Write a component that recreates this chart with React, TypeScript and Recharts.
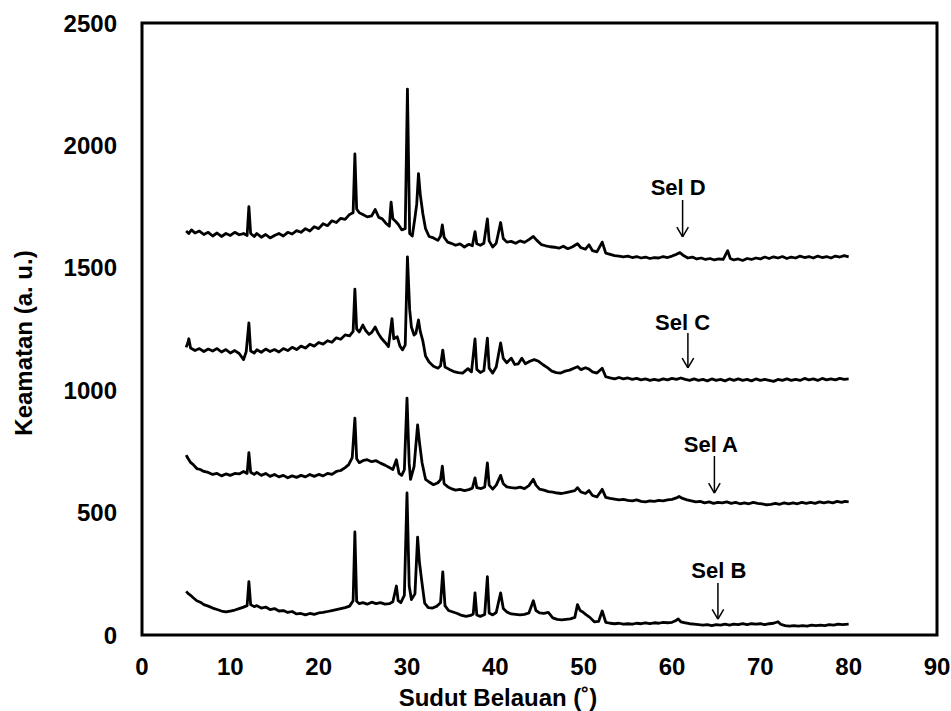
import { LineChart, Line, XAxis, YAxis, ReferenceArea, ReferenceLine, ReferenceDot } from 'recharts'

// [angle (deg), intensity]
const selD: [number, number][] = [
  [5, 1650], [5.3, 1640], [5.6, 1655], [6, 1642], [6.5, 1650], [7, 1636], [7.5, 1645], [8, 1630], [8.5, 1642], [9, 1628],
  [9.5, 1640], [10, 1632], [10.5, 1645], [11, 1635], [11.5, 1640], [11.9, 1632], [12.1, 1750], [12.3, 1640], [12.7, 1628],
  [13, 1640], [13.5, 1625], [14, 1636], [14.5, 1622], [15, 1632], [15.5, 1640], [16, 1630], [16.5, 1645], [17, 1638],
  [17.5, 1652], [18, 1645], [18.5, 1660], [19, 1650], [19.5, 1668], [20, 1660], [20.5, 1680], [21, 1672], [21.5, 1692],
  [22, 1685], [22.5, 1702], [23, 1698], [23.5, 1718], [23.9, 1725], [24.1, 1965], [24.3, 1740], [24.6, 1725], [25, 1718],
  [25.5, 1708], [26, 1712], [26.4, 1738], [26.8, 1706], [27.2, 1700], [27.6, 1682], [28, 1670], [28.2, 1768], [28.4, 1700],
  [28.7, 1690], [29, 1678], [29.4, 1655], [29.8, 1660], [30.05, 2230], [30.3, 1640], [30.6, 1630], [30.9, 1705], [31.1, 1760],
  [31.3, 1885], [31.5, 1800], [31.8, 1720], [32.1, 1660], [32.5, 1628], [33, 1622], [33.5, 1612], [33.8, 1630], [34, 1675],
  [34.2, 1625], [34.6, 1605], [35, 1600], [35.5, 1592], [36, 1598], [36.5, 1585], [37, 1596], [37.4, 1590], [37.7, 1648],
  [37.9, 1598], [38.3, 1592], [38.7, 1600], [39.1, 1700], [39.3, 1610], [39.7, 1585], [40.1, 1600], [40.6, 1685], [40.9, 1620],
  [41.3, 1605], [41.8, 1608], [42.3, 1600], [42.8, 1610], [43.3, 1604], [43.8, 1615], [44.3, 1628], [44.7, 1612], [45.2, 1595],
  [45.7, 1590], [46.2, 1586], [46.7, 1584], [47.2, 1580], [47.7, 1588], [48.2, 1578], [48.7, 1585], [49.3, 1598], [49.7, 1582],
  [50.2, 1576], [50.6, 1594], [51, 1570], [51.5, 1565], [52.1, 1605], [52.5, 1560], [53, 1555], [53.5, 1550], [54, 1548],
  [54.5, 1545], [55, 1548], [55.5, 1542], [56, 1546], [56.5, 1540], [57, 1544], [57.5, 1538], [58, 1542], [58.5, 1540],
  [59, 1546], [59.5, 1542], [60, 1548], [60.5, 1555], [60.9, 1562], [61.3, 1550], [61.8, 1540], [62.3, 1544], [62.8, 1536],
  [63.3, 1540], [63.8, 1534], [64.3, 1538], [64.8, 1532], [65.3, 1536], [65.8, 1534], [66.3, 1570], [66.6, 1538], [67, 1532],
  [67.5, 1536], [68, 1530], [68.5, 1538], [69, 1534], [69.5, 1540], [70, 1536], [70.5, 1544], [71, 1538], [71.5, 1545],
  [72, 1540], [72.5, 1546], [73, 1538], [73.5, 1544], [74, 1540], [74.5, 1548], [75, 1542], [75.5, 1546], [76, 1540],
  [76.5, 1548], [77, 1542], [77.5, 1546], [78, 1540], [78.5, 1548], [79, 1544], [79.5, 1550], [80, 1545],
]

const selC: [number, number][] = [
  [5, 1175], [5.2, 1195], [5.3, 1210], [5.5, 1172], [6, 1162], [6.5, 1170], [7, 1158], [7.5, 1168], [8, 1160], [8.5, 1170],
  [9, 1156], [9.5, 1166], [10, 1152], [10.5, 1162], [11, 1150], [11.5, 1125], [11.8, 1158], [12.1, 1275], [12.3, 1160],
  [12.7, 1152], [13, 1165], [13.5, 1155], [14, 1168], [14.5, 1158], [15, 1166], [15.5, 1156], [16, 1170], [16.5, 1162],
  [17, 1175], [17.5, 1166], [18, 1180], [18.5, 1172], [19, 1188], [19.5, 1180], [20, 1195], [20.5, 1188], [21, 1202],
  [21.5, 1196], [22, 1214], [22.5, 1208], [23, 1226], [23.5, 1222], [23.9, 1240], [24.1, 1413], [24.3, 1250], [24.6, 1238],
  [25, 1266], [25.3, 1245], [25.7, 1228], [26, 1236], [26.4, 1258], [26.7, 1235], [27.1, 1212], [27.5, 1196], [27.9, 1178],
  [28.3, 1292], [28.5, 1210], [28.9, 1218], [29.2, 1180], [29.5, 1165], [29.8, 1185], [30.05, 1545], [30.3, 1330], [30.5, 1258],
  [30.8, 1225], [31, 1232], [31.3, 1287], [31.5, 1240], [31.8, 1200], [32.1, 1140], [32.5, 1115], [33, 1098], [33.5, 1090],
  [33.8, 1100], [34.05, 1164], [34.3, 1095], [34.8, 1085], [35.3, 1076], [35.8, 1072], [36.3, 1070], [36.9, 1088], [37.3, 1075],
  [37.7, 1210], [37.9, 1085], [38.3, 1072], [38.7, 1080], [39.1, 1213], [39.3, 1090], [39.7, 1070], [40.1, 1095], [40.6, 1193],
  [40.9, 1130], [41.3, 1112], [41.8, 1131], [42.2, 1105], [42.6, 1108], [43, 1131], [43.4, 1108], [43.9, 1118], [44.4, 1125],
  [44.9, 1118], [45.4, 1104], [45.9, 1092], [46.4, 1078], [46.9, 1072], [47.4, 1070], [47.9, 1078], [48.4, 1082], [48.9, 1090],
  [49.3, 1096], [49.7, 1084], [50.2, 1092], [50.6, 1086], [51, 1075], [51.5, 1070], [52.1, 1090], [52.5, 1055], [53, 1050],
  [53.5, 1046], [54, 1052], [54.5, 1046], [55, 1050], [55.5, 1044], [56, 1048], [56.5, 1042], [57, 1046], [57.5, 1040],
  [58, 1044], [58.5, 1040], [59, 1046], [59.5, 1042], [60, 1048], [60.5, 1044], [61, 1050], [61.5, 1044], [62, 1040],
  [62.5, 1046], [63, 1040], [63.5, 1044], [64, 1038], [64.5, 1046], [65, 1040], [65.5, 1044], [66, 1038], [66.5, 1046],
  [67, 1040], [67.5, 1046], [68, 1040], [68.5, 1044], [69, 1038], [69.5, 1046], [70, 1040], [70.5, 1044], [71, 1040],
  [71.5, 1036], [72, 1044], [72.5, 1040], [73, 1046], [73.5, 1040], [74, 1044], [74.5, 1040], [75, 1048], [75.5, 1042],
  [76, 1046], [76.5, 1040], [77, 1048], [77.5, 1042], [78, 1046], [78.5, 1042], [79, 1048], [79.5, 1044], [80, 1046],
]

const selA: [number, number][] = [
  [5, 735], [5.2, 722], [5.5, 705], [5.8, 696], [6.2, 680], [6.6, 676], [7, 668], [7.5, 664], [8, 656], [8.5, 660], [9, 650],
  [9.5, 658], [10, 652], [10.5, 660], [11, 658], [11.5, 668], [11.9, 660], [12.1, 745], [12.3, 665], [12.7, 656], [13, 664],
  [13.5, 652], [14, 660], [14.5, 648], [15, 656], [15.5, 646], [16, 652], [16.5, 642], [17, 650], [17.5, 644], [18, 652],
  [18.5, 646], [19, 656], [19.5, 648], [20, 656], [20.5, 650], [21, 660], [21.5, 656], [22, 668], [22.5, 672], [23, 684],
  [23.4, 696], [23.8, 725], [24.1, 886], [24.3, 720], [24.6, 704], [25, 712], [25.5, 716], [26, 708], [26.5, 712], [27, 702],
  [27.5, 694], [28, 684], [28.4, 676], [28.8, 716], [29.1, 660], [29.4, 652], [29.7, 675], [30, 968], [30.25, 700], [30.4, 636],
  [30.8, 688], [31.2, 858], [31.4, 790], [31.7, 705], [32.1, 636], [32.5, 625], [33, 614], [33.5, 622], [33.8, 635], [34, 690],
  [34.2, 618], [34.6, 606], [35, 598], [35.5, 592], [36, 595], [36.5, 590], [37, 594], [37.4, 600], [37.7, 642], [37.9, 602],
  [38.4, 598], [38.8, 605], [39.1, 703], [39.3, 612], [39.7, 596], [40.1, 612], [40.6, 652], [40.9, 618], [41.3, 605],
  [41.8, 602], [42.3, 600], [42.8, 604], [43.3, 598], [43.8, 610], [44.3, 636], [44.6, 612], [45, 596], [45.5, 592], [46, 586],
  [46.5, 584], [47, 580], [47.5, 578], [48, 582], [48.5, 586], [49, 590], [49.3, 602], [49.7, 584], [50.2, 578], [50.6, 590],
  [51, 570], [51.5, 564], [52.1, 595], [52.5, 562], [53, 558], [53.5, 555], [54, 552], [54.5, 554], [55, 550], [55.5, 548],
  [56, 552], [56.5, 546], [57, 544], [57.5, 548], [58, 546], [58.5, 550], [59, 548], [59.5, 552], [60, 554], [60.5, 560],
  [60.8, 566], [61.2, 558], [61.7, 552], [62.2, 548], [62.7, 544], [63.2, 546], [63.7, 540], [64.2, 544], [64.7, 538],
  [65.2, 542], [65.7, 540], [66.2, 544], [66.7, 538], [67.2, 542], [67.7, 536], [68.2, 540], [68.7, 536], [69.2, 542],
  [69.7, 538], [70.2, 536], [70.7, 532], [71.2, 534], [71.7, 538], [72.2, 534], [72.7, 540], [73.2, 536], [73.7, 540],
  [74.2, 536], [74.7, 542], [75.2, 538], [75.7, 542], [76.2, 538], [76.7, 544], [77.2, 540], [77.7, 544], [78.2, 540],
  [78.7, 546], [79.2, 542], [79.6, 546], [80, 544],
]

const selB: [number, number][] = [
  [5, 178], [5.2, 170], [5.5, 162], [5.8, 152], [6.2, 140], [6.6, 134], [7, 124], [7.5, 118], [8, 110], [8.5, 104], [9, 98],
  [9.5, 94], [10, 98], [10.5, 102], [11, 108], [11.5, 114], [11.9, 120], [12.1, 218], [12.3, 124], [12.7, 116], [13, 120],
  [13.5, 110], [14, 114], [14.5, 104], [15, 108], [15.5, 98], [16, 100], [16.5, 92], [17, 96], [17.5, 86], [18, 88],
  [18.5, 82], [19, 88], [19.5, 84], [20, 90], [20.5, 92], [21, 96], [21.5, 100], [22, 104], [22.5, 108], [23, 112],
  [23.5, 118], [23.9, 140], [24.1, 421], [24.3, 138], [24.6, 128], [25, 132], [25.5, 126], [26, 134], [26.5, 128], [27, 132],
  [27.5, 126], [28, 128], [28.4, 136], [28.8, 200], [29, 140], [29.3, 132], [29.7, 162], [30, 580], [30.25, 200], [30.5, 145],
  [30.9, 168], [31.2, 400], [31.4, 300], [31.7, 212], [32, 130], [32.4, 112], [32.9, 110], [33.4, 118], [33.8, 132],
  [34.05, 258], [34.3, 120], [34.7, 100], [35.2, 94], [35.7, 88], [36.2, 80], [36.7, 76], [37.2, 80], [37.5, 86], [37.7, 172],
  [37.9, 82], [38.3, 76], [38.8, 84], [39.1, 238], [39.3, 90], [39.7, 82], [40.1, 92], [40.6, 172], [40.9, 108], [41.3, 94],
  [41.8, 86], [42.3, 84], [42.8, 82], [43.3, 84], [43.8, 90], [44.3, 140], [44.6, 100], [45, 90], [45.5, 88], [46, 92],
  [46.5, 70], [47, 64], [47.5, 62], [48, 64], [48.5, 66], [49, 72], [49.3, 124], [49.6, 100], [49.9, 94], [50.3, 82],
  [50.7, 72], [51.2, 54], [51.7, 56], [52.1, 98], [52.5, 52], [53, 48], [53.5, 46], [54, 48], [54.5, 44], [55, 46], [55.5, 44],
  [56, 48], [56.5, 46], [57, 50], [57.5, 46], [58, 50], [58.5, 48], [59, 52], [59.5, 50], [60, 52], [60.4, 58], [60.7, 66],
  [61, 54], [61.5, 50], [62, 46], [62.5, 44], [63, 42], [63.5, 40], [64, 42], [64.5, 38], [65, 42], [65.5, 40], [66, 44],
  [66.5, 40], [67, 44], [67.5, 42], [68, 46], [68.5, 42], [69, 46], [69.5, 44], [70, 46], [70.5, 42], [71, 46], [71.5, 48],
  [72, 54], [72.3, 44], [72.8, 38], [73.3, 36], [73.8, 38], [74.3, 36], [74.8, 38], [75.3, 36], [75.8, 40], [76.3, 38],
  [76.8, 40], [77.3, 38], [77.8, 42], [78.3, 40], [78.8, 44], [79.3, 42], [80, 44],
]

const xTicks = [0, 10, 20, 30, 40, 50, 60, 70, 80, 90]
const yTicks = [0, 500, 1000, 1500, 2000, 2500]

// annotations: label, label position, arrow x, arrow top, arrow tip
const noteNames = ['Sel D', 'Sel C', 'Sel A', 'Sel B']
const noteLabelX = [60.7, 61.2, 64.4, 65.3]
const noteLabelY = [1830, 1279, 780, 266]
const noteArrowX = [61.2, 61.8, 64.8, 65.2]
const noteArrowTop = [1777, 1234, 731, 212]
const noteArrowTip = [1626, 1091, 580, 65]

const toPoints = (arr: [number, number][]) => arr.map(([x, y]) => ({ x, y }))
const series = [selD, selC, selA, selB].map(toPoints)

const font = '"Liberation Sans", Arial, sans-serif'
const tickStyle = { fill: '#000', fontSize: 24, fontWeight: 'bold', fontFamily: font }

const XTitle = ({ viewBox }: any) => (
  <text x={viewBox.x + 356} y={viewBox.y + 71} textAnchor="middle" fill="#000" fontSize={24} fontWeight="bold" fontFamily={font}>
    Sudut Belauan (˚)
  </text>
)

const YTitle = ({ viewBox }: any) => {
  const cx = viewBox.x + 23
  const cy = viewBox.y + viewBox.height / 2 + 14
  return (
    <text x={cx} y={cy} transform={`rotate(-90, ${cx}, ${cy})`} textAnchor="middle" dominantBaseline="central"
      fill="#000" fontSize={24} fontWeight="bold" fontFamily={font}>
      Keamatan (a. u.)
    </text>
  )
}

export default function App() {
  return (
    <div style={{ position: 'absolute', left: 0, top: 0, background: '#fff' }}>
      <LineChart width={951} height={711} margin={{ top: 23, right: 14, bottom: 0, left: 0 }} style={{ fontFamily: font }}>
        <XAxis dataKey="x" type="number" domain={[0, 90]} ticks={xTicks} allowDataOverflow
          axisLine={false} tickLine={false} tickSize={0} tickMargin={23} height={76} tick={tickStyle}
          label={<XTitle />} />
        <YAxis type="number" domain={[0, 2500]} ticks={yTicks} allowDataOverflow
          axisLine={false} tickLine={false} tickSize={0} tickMargin={25} width={142} tick={tickStyle}
          label={<YTitle />} />
        <ReferenceArea x1={0} x2={90} y1={0} y2={2500} fill="none" stroke="#000" strokeWidth={3} ifOverflow="visible" />
        {series.map((d, i) => (
          <Line key={i} data={d} dataKey="y" type="linear" stroke="#000" strokeWidth={2.8} strokeLinejoin="round"
            dot={false} isAnimationActive={false} />
        ))}
        {noteNames.map((name, i) => (
          <ReferenceLine key={'s' + i} segment={[{ x: noteArrowX[i], y: noteArrowTop[i] }, { x: noteArrowX[i], y: noteArrowTip[i] }]}
            stroke="#000" strokeWidth={1.5} />
        ))}
        {noteNames.map((name, i) => (
          <ReferenceLine key={'l' + i} segment={[{ x: noteArrowX[i] - 0.65, y: noteArrowTip[i] + 40 }, { x: noteArrowX[i], y: noteArrowTip[i] }]}
            stroke="#000" strokeWidth={1.5} />
        ))}
        {noteNames.map((name, i) => (
          <ReferenceLine key={'r' + i} segment={[{ x: noteArrowX[i] + 0.65, y: noteArrowTip[i] + 40 }, { x: noteArrowX[i], y: noteArrowTip[i] }]}
            stroke="#000" strokeWidth={1.5} />
        ))}
        {noteNames.map((name, i) => (
          <ReferenceDot key={'t' + i} x={noteLabelX[i]} y={noteLabelY[i]} r={0} fill="none" stroke="none"
            label={{ value: name, position: 'center', fill: '#000', fontSize: 22, fontWeight: 'bold', fontFamily: font }} />
        ))}
      </LineChart>
    </div>
  )
}
